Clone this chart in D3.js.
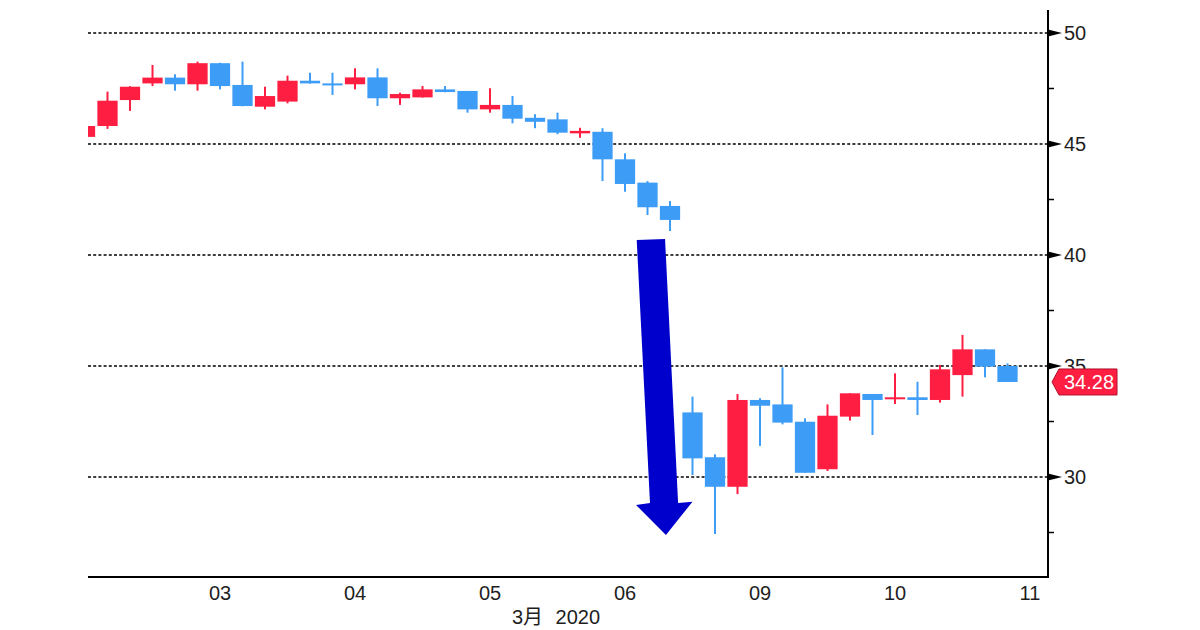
<!DOCTYPE html>
<html>
<head>
<meta charset="UTF-8">
<title>Candles</title>
<style>
    body { margin: 0; background: #fff; }
    .lbl { font-family: "Liberation Sans", Arial, "Noto Sans CJK SC", sans-serif; font-size: 20px; fill: #1e1e1e; }
</style>
</head>
<body>
<script src="https://d3js.org/d3.v7.min.js"></script>
<svg id="svg" width="1200" height="630"></svg>
<script>
    // 4-hour bars, index 0 = first (partial) bar on the left
    const opens  = [45.32, 45.81, 46.98, 47.73, 47.99, 47.69, 48.64, 47.66, 46.68, 46.91, 47.85, 47.73, 47.69, 48.00,
                    47.06, 47.10, 47.46, 47.39, 46.56, 46.76, 46.18, 46.11, 45.48, 45.55, 44.31, 43.26, 42.21,
                    32.91, 30.89, 29.56, 33.47, 33.27, 32.49, 30.35, 32.72, 33.74, 33.50, 33.59, 33.47, 34.59, 35.75, 35.00];
    const highs  = [45.85, 47.36, 47.60, 48.56, 48.14, 48.71, 48.66, 48.71, 47.58, 48.08, 48.21, 48.21, 48.41, 48.41,
                    47.31, 47.61, 47.61, 47.39, 47.51, 47.16, 46.34, 46.41, 45.73, 45.71, 44.58, 43.33, 42.43,
                    33.62, 31.02, 33.74, 33.55, 34.94, 32.64, 33.27, 33.77, 33.74, 34.67, 34.29, 35.05, 36.40, 35.75, 35.12];
    const lows   = [45.28, 45.68, 46.49, 47.61, 47.40, 47.40, 47.46, 46.70, 46.56, 46.83, 47.72, 47.21, 47.46, 46.71,
                    46.76, 47.09, 47.33, 46.41, 46.41, 45.93, 45.71, 45.44, 45.28, 43.33, 42.85, 41.80, 41.08,
                    30.09, 27.43, 29.23, 31.40, 32.37, 30.19, 30.27, 32.54, 31.89, 33.29, 32.79, 33.35, 33.62, 34.49, 34.28];
    const closes = [45.81, 46.95, 47.58, 47.99, 47.69, 48.64, 47.61, 46.71, 47.16, 47.85, 47.73, 47.69, 48.00, 47.06,
                    47.25, 47.46, 47.34, 46.56, 46.76, 46.14, 46.00, 45.51, 45.59, 44.31, 43.20, 42.15, 41.58,
                    30.84, 29.56, 33.47, 33.21, 32.45, 30.19, 32.76, 33.77, 33.47, 33.59, 33.47, 34.85, 35.75, 34.97, 34.28];

    const dayTicks  = [6, 12, 18, 24, 30, 36, 42];
    const dayLabels = ["03", "04", "05", "06", "09", "10", "11"];
    const monthLabel = "3月 2020";
    const yGrid  = [30, 35, 40, 45, 50];
    const yMinor = [27.5, 32.5, 37.5, 42.5, 47.5];
    const lastPrice = 34.28;
    // annotation arrow, in [bar index, price]
    const arrowPts = [[24.52, 40.68], [25.78, 40.72], [26.36, 28.83], [27.0, 28.89], [25.82, 27.39], [24.49, 28.74], [25.11, 28.83]];

    const upColor = "#fe1e42", downColor = "#3d9cf6";

    var svg = d3.select("#svg"),
        pLeft = 88, pRight = 1048, pTop = 10, pBottom = 577;

    var x = d3.scaleLinear().domain([0.133, 42.8]).range([pLeft, pRight]),
        y = d3.scaleLinear().domain([50, 30]).range([33, 477]),
        bw = (x(1) - x(0)) * 0.9;

    var bars = d3.range(opens.length).map(function (i) {
        return { i: i, o: opens[i], h: highs[i], l: lows[i], c: closes[i] };
    });

    svg.append("defs").append("clipPath").attr("id", "plot")
        .append("rect").attr("x", pLeft).attr("y", pTop).attr("width", pRight - pLeft).attr("height", pBottom - pTop);

    // dotted grid
    svg.append("g").selectAll("line").data(yGrid).join("line")
        .attr("x1", pLeft).attr("x2", pRight)
        .attr("y1", d => y(d)).attr("y2", d => y(d))
        .attr("stroke", "#000").attr("stroke-width", 1.7).attr("stroke-dasharray", "3,2.2");

    // candles
    var g = svg.append("g").attr("clip-path", "url(#plot)");
    var cg = g.selectAll("g").data(bars).join("g")
        .attr("fill", d => d.c >= d.o ? upColor : downColor)
        .attr("stroke", d => d.c >= d.o ? upColor : downColor);
    cg.append("line")
        .attr("x1", d => x(d.i)).attr("x2", d => x(d.i))
        .attr("y1", d => y(d.h)).attr("y2", d => y(d.l))
        .attr("stroke-width", 2);
    cg.append("rect")
        .attr("x", d => x(d.i) - bw / 2).attr("width", bw)
        .attr("y", d => y(Math.max(d.o, d.c)))
        .attr("height", d => Math.max(2, Math.abs(y(d.o) - y(d.c))))
        .attr("stroke", "none");

    // arrow annotation
    svg.append("path")
        .attr("d", d3.line().x(d => x(d[0])).y(d => y(d[1]))(arrowPts) + "Z")
        .attr("fill", "#0000cc");

    // axes
    svg.append("line").attr("x1", pRight).attr("x2", pRight).attr("y1", pTop).attr("y2", pBottom)
        .attr("stroke", "#000").attr("stroke-width", 2);
    svg.append("line").attr("x1", pLeft).attr("x2", pRight + 1).attr("y1", pBottom).attr("y2", pBottom)
        .attr("stroke", "#000").attr("stroke-width", 2);

    svg.append("g").selectAll("path").data(yGrid).join("path")
        .attr("d", d => "M" + pRight + "," + (y(d) - 3.5) + "L" + (pRight + 14) + "," + y(d) + "L" + pRight + "," + (y(d) + 3.5) + "Z")
        .attr("fill", "#000");
    svg.append("g").selectAll("line").data(yMinor).join("line")
        .attr("x1", pRight).attr("x2", pRight + 6)
        .attr("y1", d => y(d)).attr("y2", d => y(d))
        .attr("stroke", "#000").attr("stroke-width", 1.5);
    svg.append("g").selectAll("text").data(yGrid).join("text")
        .attr("class", "lbl").attr("x", pRight + 16).attr("y", d => y(d)).attr("dy", "0.36em")
        .text(d => d);

    svg.append("g").selectAll("text").data(dayTicks).join("text")
        .attr("class", "lbl").attr("text-anchor", "middle")
        .attr("x", d => x(d)).attr("y", 600)
        .text((d, i) => dayLabels[i]);
    svg.append("text").attr("class", "lbl").attr("text-anchor", "middle")
        .attr("x", 556).attr("y", 624).style("word-spacing", "7px").text(monthLabel);

    // last price tag
    var ty = y(lastPrice);
    svg.append("path")
        .attr("d", "M" + (pRight + 4) + "," + ty + "L" + (pRight + 11) + "," + (ty - 13) + "L1117," + (ty - 13) +
            "L1117," + (ty + 13) + "L" + (pRight + 11) + "," + (ty + 13) + "Z")
        .attr("fill", upColor).attr("stroke", "#b0102a").attr("stroke-width", 1);
    svg.append("text").attr("class", "lbl").attr("x", 1064).attr("y", ty).attr("dy", "0.36em")
        .style("fill", "#fff").text(lastPrice.toFixed(2));
</script>
</body>
</html>
